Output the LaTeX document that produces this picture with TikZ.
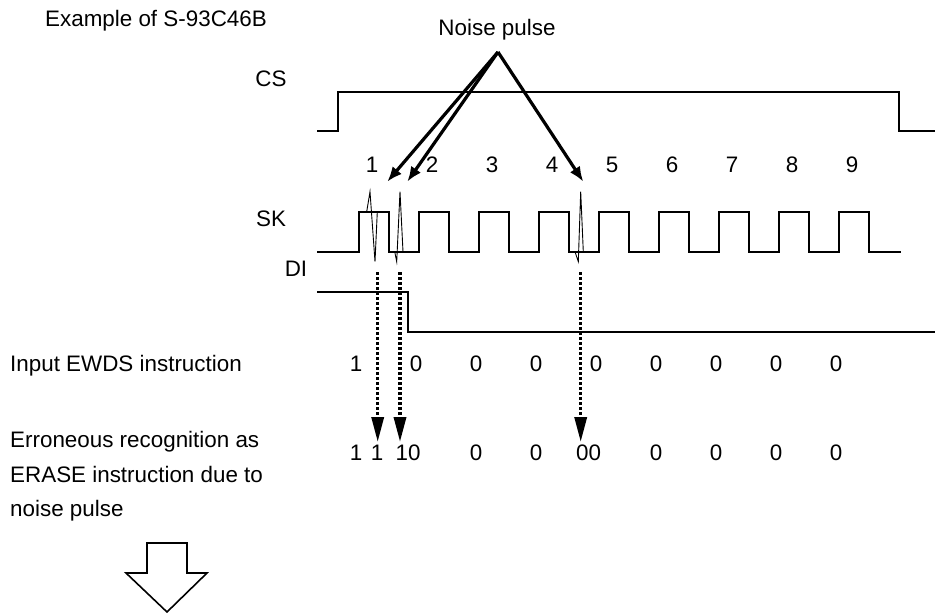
\documentclass[tikz,border=0pt]{standalone}
\usepackage{fontspec}
\setmainfont{Liberation Sans}
\usetikzlibrary{arrows.meta}

\begin{document}
\begin{tikzpicture}[x=1pt,y=-1pt,
	font=\fontsize{22.4}{34.5}\selectfont,
	lbl/.style={anchor=base,inner sep=0pt},
	wave/.style={line width=2.8pt},
	spike/.style={line width=0.9pt},
	noisearr/.style={line width=3.2pt,-{Latex[length=15pt,width=12pt]}},
	readarr/.style={line width=3.4pt,dash pattern=on 3.4pt off 1.6pt,-{Triangle[length=25pt,width=12pt]}}]
	\useasboundingbox (0,0) rectangle (935,613);
	% labels
	\node[lbl,anchor=base west] (title) at (45,26) {Example of S-93C46B};
	\node[lbl] (noise) at (497,35) {Noise pulse};
	\node[lbl] (cs) at (271,86) {CS};
	\node[lbl] (sk) at (271,226) {SK};
	\node[lbl] (di) at (296,276) {DI};
	\node[lbl,anchor=base west] (ewds) at (10,371) {Input EWDS instruction};
	\node[lbl,anchor=base west] (err1) at (10,447) {Erroneous recognition as};
	\node[lbl,anchor=base west] (err2) at (10,482) {ERASE instruction due to};
	\node[lbl,anchor=base west] (err3) at (10,516) {noise pulse};
	% waveforms
	\draw[wave] (317,131) -- (338,131) -- (338,92) -- (899,92) -- (899,131) -- (935,131);
	\draw[wave] (317,252)
		\foreach \k in {0,...,8} { -- ({359+60*\k},252) -- ({359+60*\k},212) -- ({389+60*\k},212) -- ({389+60*\k},252) }
		-- (901,252);
	\draw[wave] (317,292) -- (408,292) -- (408,332) -- (935,332);
	% clock numbers
	\foreach \k in {1,...,9}
		\node[lbl] (n\k) at ({372+60*(\k-1)},172) {\k};
	% noise spikes
	\draw[spike] (366.7,211.7) -- (370,191.7) -- (375,261.7) -- (377.3,211.7);
	\draw[spike] (394.7,251.7) -- (396.7,261.7) -- (400,191.7) -- (403,251.7);
	\draw[spike] (575,251.7) -- (578.3,261.7) -- (580.7,191.7) -- (583.3,251.7);
	% noise pulse arrows
	\coordinate (np) at (498,52);
	\coordinate (pa) at (387.3,181.7);
	\coordinate (pb) at (407.3,181.7);
	\coordinate (pc) at (583.3,181.7);
	\draw[noisearr] (np) -- (pa);
	\draw[noisearr] (np) -- (pb);
	\draw[noisearr] (np) -- (pc);
	% input bits
	\node[lbl] (a1) at (356,371) {1};
	\foreach \k in {0,...,7}
		\node[lbl] (a\k0) at ({416+60*\k},371) {0};
	% recognised bits
	\node[lbl] (b1) at (356,460) {1};
	\node[lbl] (b2) at (377,460) {1};
	\node[lbl] (b3) at (408,460) {10};
	\node[lbl] (b4) at (476,460) {0};
	\node[lbl] (b5) at (536,460) {0};
	\node[lbl] (b6) at (588.5,460) {00};
	\node[lbl] (b7) at (656,460) {0};
	\node[lbl] (b8) at (716,460) {0};
	\node[lbl] (b9) at (776,460) {0};
	\node[lbl] (b10) at (836,460) {0};
	% read-in arrows
	\coordinate (ra) at (377.7,272);
	\coordinate (rb) at (400,272);
	\coordinate (rc) at (580.7,272);
	\draw[readarr] (ra) -- (ra |- 0,442);
	\draw[readarr] (rb) -- (rb |- 0,442);
	\draw[readarr] (rc) -- (rc |- 0,442);
	% hollow arrow
	\draw[line width=1.6pt] (147,543) -- (187,543) -- (187,573) -- (207,573) -- (167,612) -- (126,573) -- (147,573) -- cycle;
\end{tikzpicture}
\end{document}
